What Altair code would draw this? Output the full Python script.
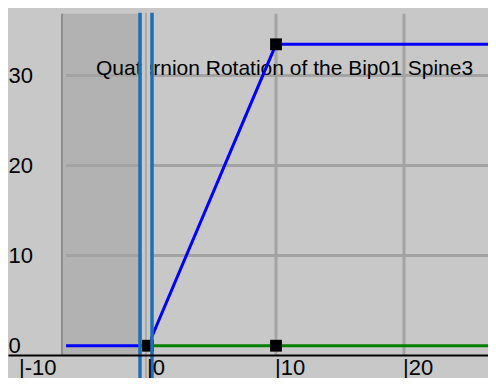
import altair as alt
import pandas as pd

# ---- data ----
title_text = "Quaternion Rotation of the Bip01 Spine3"
blue_frames = [-6.4, 0, 10, 27.5]
blue_values = [0, 0, 33.45, 33.45]
green_frames = [0, 10, 27.5]
green_values = [0, 0, 0]
key_frames = [0, 10, 10]
key_values = [0, 0, 33.45]
x_ticks = [-10, 0, 10, 20]
y_ticks = [0, 10, 20, 30]
vgrid_frames = [10, 20]
hgrid_values = [10, 20, 30]
shade_start, shade_end = -6.72, -0.47
slider_edges = [-0.625, 0.3125]
slider_center = [-0.16]

X_DOMAIN = [-10.9375, 26.5625]
Y_DOMAIN = [-1.03, 37.48]
Y_TOP = 36.84      # top of the drawing region
SLIDER_TOP = 36.95
SLIDER_BOTTOM = -3.8
FONT = "Liberation Sans"

xs = alt.Scale(domain=X_DOMAIN, nice=False, zero=False)
ys = alt.Scale(domain=Y_DOMAIN, nice=False, zero=False)

x_axis = alt.Axis(values=x_ticks, labelExpr="'|' + datum.value", labelAlign="left",
                  labelBaseline="top", labelPadding=2, labelOffset=-1.5, ticks=False, tickSize=0,
                  domainColor="#000000", domainWidth=2, grid=False, title=None,
                  labelFont=FONT, labelFontSize=22, labelColor="#000000",
                  labelFlush=False, labelOverlap=False, labelBound=False, zindex=1)
y_axis = alt.Axis(values=y_ticks, orient="left", labelAlign="left", labelBaseline="middle",
                  labelPadding=0, ticks=False, tickSize=0, domain=False, grid=False,
                  title=None, labelFont=FONT, labelFontSize=22, labelColor="#000000",
                  labelFlush=False, labelOverlap=False, labelBound=False, zindex=1)


def X(field):
    return alt.X(field, scale=xs, axis=x_axis)


def Y(field):
    return alt.Y(field, scale=ys, axis=y_axis)


# shaded out-of-range region
shade_df = pd.DataFrame({"x": [shade_start], "x2": [shade_end], "y": [Y_DOMAIN[0]], "y2": [Y_TOP]})
shade = alt.Chart(shade_df).mark_rect(color="#b2b2b2").encode(
    x=X("x:Q"), x2="x2:Q", y=Y("y:Q"), y2="y2:Q")

edge_df = pd.DataFrame({"x": [shade_start], "y": [Y_DOMAIN[0]], "y2": [Y_TOP]})
edge = alt.Chart(edge_df).mark_rule(color="#8c8c8c", strokeWidth=2).encode(
    x=X("x:Q"), y=Y("y:Q"), y2="y2:Q")

hgrid_df = pd.DataFrame({"v": hgrid_values, "x": [blue_frames[0]] * 3, "x2": [X_DOMAIN[1]] * 3})
hgrid = alt.Chart(hgrid_df).mark_rule(color="#a3a3a3", strokeWidth=3).encode(
    x=X("x:Q"), x2="x2:Q", y=Y("v:Q"))

vgrid_df = pd.DataFrame({"f": vgrid_frames, "y": [Y_DOMAIN[0]] * 2, "y2": [Y_TOP] * 2})
vgrid = alt.Chart(vgrid_df).mark_rule(color="#a3a3a3", strokeWidth=3).encode(
    x=X("f:Q"), y=Y("y:Q"), y2="y2:Q")

title_df = pd.DataFrame({"t": [title_text]})
title = alt.Chart(title_df).mark_text(align="left", baseline="alphabetic", font=FONT,
                                      fontSize=21, color="#000000").encode(
    x=alt.value(88), y=alt.value(66.5), text="t:N")

green_df = pd.DataFrame({"f": green_frames, "v": green_values})
green = alt.Chart(green_df).mark_line(color="#008000", strokeWidth=3).encode(
    x=X("f:Q"), y=Y("v:Q"))

blue_df = pd.DataFrame({"f": blue_frames, "v": blue_values})
blue = alt.Chart(blue_df).mark_line(color="#0000ff", strokeWidth=3).encode(
    x=X("f:Q"), y=Y("v:Q"))

band_df = pd.DataFrame({"x": [shade_end], "x2": [slider_edges[1] - 0.15],
                        "y": [SLIDER_BOTTOM], "y2": [SLIDER_TOP]})
band = alt.Chart(band_df).mark_rect(color="#c8c8c8").encode(
    x=X("x:Q"), x2="x2:Q", y=Y("y:Q"), y2="y2:Q")

center_df = pd.DataFrame({"f": slider_center, "y": [SLIDER_BOTTOM], "y2": [SLIDER_TOP]})
center = alt.Chart(center_df).mark_rule(color="#a0a0a0", strokeWidth=1.5).encode(
    x=X("f:Q"), y=Y("y:Q"), y2="y2:Q")

keys_df = pd.DataFrame({"f": key_frames, "v": key_values})
keys = alt.Chart(keys_df).mark_point(shape="square", filled=True, size=140,
                                     color="#000000", opacity=1).encode(
    x=X("f:Q"), y=Y("v:Q"))

slider_df = pd.DataFrame({"f": slider_edges, "y": [SLIDER_BOTTOM] * 2, "y2": [SLIDER_TOP] * 2})
slider = alt.Chart(slider_df).mark_rule(color="#1f6fb5", strokeWidth=3.5).encode(
    x=X("f:Q"), y=Y("y:Q"), y2="y2:Q")

chart = alt.layer(shade, edge, hgrid, vgrid, title, green, blue, band, center, keys, slider).properties(
    width=480, height=347, background="#c8c8c8",
    autosize=alt.AutoSizeParams(type="none"),
    padding={"left": 0, "top": 0, "right": 0, "bottom": 23},
).configure_view(strokeWidth=0)

chart.save("out.html", embed_options={"renderer": "svg", "actions": False})
